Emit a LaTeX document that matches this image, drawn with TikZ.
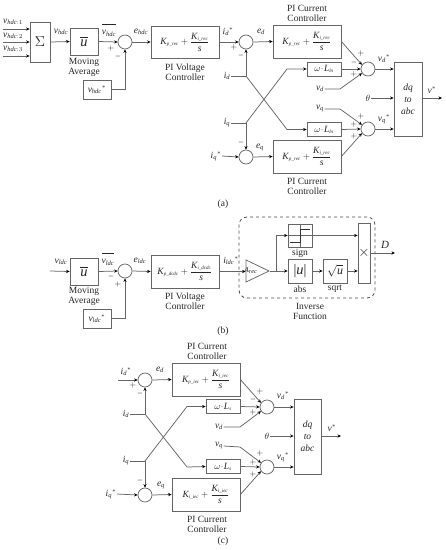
\documentclass[tikz,border=0pt]{standalone}
\usepackage{amsmath, amssymb}
\usepackage{fontspec}
\setmainfont{Liberation Serif}
\usepackage[italic]{mathastext}
\DeclareMathSizes{9.5}{9.5}{6.5}{5}
\usetikzlibrary{arrows.meta, shapes.geometric}
\newcommand{\subs}[1]{_{\scriptscriptstyle #1}}

\begin{document}
\begin{tikzpicture}[x=1pt, y=-1pt,
    font=\fontsize{9.5}{10}\selectfont, text=black!85,
    sig/.style={draw=black!60, line width=0.75pt, -{Stealth[color=black, length=3.5pt, width=3.2pt]}},
    wire/.style={draw=black!60, line width=0.75pt},
    blk/.style={draw=black!60, line width=0.8pt, fill=white, inner sep=0pt},
    sumnode/.style={circle, draw=black!60, line width=0.75pt, fill=white, inner sep=0pt, minimum size=14pt},
    lbl/.style={inner sep=0.5pt},
    sgn/.style={inner sep=0pt, font=\fontsize{8.5}{9}\selectfont},
    note/.style={align=center, inner sep=0pt, font=\fontsize{9.5}{10}\selectfont}]
  \useasboundingbox (0,0) rectangle (446,550);

  % ---- (a)
  \node[lbl] (vhdca) at (13,22) {$v_{hdc:1}$};
  \node[lbl] (vhdcb) at (13,36) {$v_{hdc:2}$};
  \node[lbl] (vhdcc) at (13,49) {$v_{hdc:3}$};
  \coordinate (ina) at (3,29);
  \coordinate (inb) at (3,42);
  \coordinate (inc) at (3,56);
  \node[blk, minimum width=20, minimum height=40, font=\Large] (sigma) at (40,42) {$\Sigma$};
  \node[blk, minimum width=28, minimum height=27, font=\Large] (avgA) at (84,41.5) {$\overline{u}$};
  \node[sumnode] (sumA) at (125,42) {};
  \node[blk, minimum width=28, minimum height=19] (refA) at (97,89.5) {$v_{hdc}{}^{*}$};
  \node[blk, minimum width=68, minimum height=32] (pivA) at (185,42) {$K\subs{p\_rec}+\dfrac{K\subs{i\_rec}}{s}$};
  \node[sumnode] (sumdA) at (246,42) {};
  \node[sumnode] (sumqA) at (246,157) {};
  \node[blk, minimum width=68, minimum height=33] (pidA) at (307,41.5) {$K\subs{p\_rec}+\dfrac{K\subs{i\_rec}}{s}$};
  \node[blk, minimum width=68, minimum height=33] (piqA) at (307,156.5) {$K\subs{p\_rec}+\dfrac{K\subs{i\_rec}}{s}$};
  \node[blk, minimum width=34, minimum height=14] (wdA) at (324,69) {$\omega\!\cdot\! L\subs{ln}$};
  \node[blk, minimum width=34, minimum height=14] (wqA) at (324,129.5) {$\omega\!\cdot\! L\subs{ln}$};
  \node[sumnode] (svdA) at (368,69) {};
  \node[sumnode] (svqA) at (368,129) {};
  \node[blk, minimum width=28, minimum height=74, align=center] (dqA) at (408,99) {$dq$\\[2pt]$to$\\[2pt]$abc$};
  \node[lbl] (idA) at (227,76) {$i_d$};
  \node[lbl] (iqA) at (227,123) {$i_q$};
  \node[lbl] (iqrA) at (216,156) {$i_q{}^{*}$};
  \node[lbl] (vdA) at (320,89) {$v_d$};
  \node[lbl] (vqA) at (320,109) {$v_q$};
  \node[lbl] (thA) at (368,98) {$\theta$};
  \coordinate (jdA) at (246,76);
  \coordinate (jqA) at (246,123);
  \coordinate (voutA) at (442,98);

  \draw[sig] (ina) -- (ina -| sigma.west);
  \draw[sig] (inb) -- (sigma.west);
  \draw[sig] (inc) -- (inc -| sigma.west);
  \draw[sig] (sigma.east) -- (avgA.west);
  \draw[sig] (avgA.east) -- (sumA.west);
  \draw[sig] (sumA.east) -- (pivA.west);
  \draw[sig] (refA.east) -| (sumA.south);
  \draw[sig] (pivA.east) -- (sumdA.west);
  \draw[sig] (sumdA.east) -- (pidA.west);
  \draw[sig] (iqrA.east) -- (sumqA.west);
  \draw[sig] (sumqA.east) -- (piqA.west);
  \draw[wire] (idA.east) -- (jdA);
  \draw[wire] (iqA.east) -- (jqA);
  \draw[sig] (jdA) -- (sumdA.south);
  \draw[sig] (jqA) -- (sumqA.north);
  \draw[sig] (jdA) -- (287,129.5) -- (wqA.west);
  \draw[sig] (jqA) -- (287,69) -- (wdA.west);
  \draw[sig] (pidA.east) -- (svdA.145);
  \draw[sig] (wdA.east) -- (svdA.west);
  \draw[sig] (vdA.east) -- (340,89) -- (svdA.215);
  \draw[sig] (vqA.east) -- (340,109) -- (svqA.145);
  \draw[sig] (wqA.east) -- (svqA.west);
  \draw[sig] (piqA.east) -- (svqA.215);
  \draw[sig] (svdA.east) -- (svdA.east -| dqA.west);
  \draw[sig] (svqA.east) -- (svqA.east -| dqA.west);
  \draw[sig] (thA.east) -- (thA.east -| dqA.west);
  \draw[sig] (dqA.east |- voutA) -- (voutA);

  \node[lbl] at (61,32) {$v_{hdc}$};
  \node[lbl] at (109,30) {$\overline{\rule{0pt}{9pt}v_{hdc}}$};
  \node[lbl] at (141,32) {$e_{hdc}$};
  \node[lbl] at (228,32) {$i_d{}^{*}$};
  \node[lbl] at (261,32) {$e_d$};
  \node[lbl] at (260,147) {$e_q$};
  \node[lbl] at (384,59) {$v_d{}^{*}$};
  \node[lbl] at (384,119) {$v_q{}^{*}$};
  \node[lbl] at (432,90) {$v^{*}$};
  \node[note] at (84,67) {Moving\\[0pt]Average};
  \node[note] at (185,72) {PI Voltage\\[0pt]Controller};
  \node[note] at (307,13.5) {PI Current\\[0pt]Controller};
  \node[note] at (307,186) {PI Current\\[0pt]Controller};
  \node[note] at (223,204) {(a)};
  \node[sgn] at (111,48) {$+$};
  \node[sgn] at (118,57) {$-$};
  \node[sgn] at (234,47) {$+$};
  \node[sgn] at (241,56) {$-$};
  \node[sgn] at (241,143) {$-$};
  \node[sgn] at (361,53) {$+$};
  \node[sgn] at (354,63) {$-$};
  \node[sgn] at (354,74) {$+$};
  \node[sgn] at (361,116) {$+$};
  \node[sgn] at (354,124) {$+$};
  \node[sgn] at (354,136) {$+$};

  % ---- (b)
  \node[lbl] (vldcin) at (61,262) {$v_{ldc}$};
  \coordinate (ldcin) at (50,271);
  \node[blk, minimum width=28, minimum height=27, font=\Large] (avgB) at (84,271.5) {$\overline{u}$};
  \node[sumnode] (sumB) at (125,271) {};
  \node[blk, minimum width=28, minimum height=19] (refB) at (97,318.5) {$v_{ldc}{}^{*}$};
  \node[blk, minimum width=68, minimum height=33] (pivB) at (185,271.5) {$K\subs{p\_dcdc}+\dfrac{K\subs{i\_dcdc}}{s}$};
  \node[draw=black!70, dashed, line width=0.8pt, rounded corners=8pt, minimum width=136, minimum height=81] (invfn) at (307,257.5) {};
  \node[isosceles triangle, isosceles triangle stretches, draw=black!60, line width=0.75pt, inner sep=0pt,
        minimum width=22, minimum height=23, anchor=apex, font=\fontsize{7.5}{8}\selectfont] (gain) at (270,271) {\hspace{-4pt}$A_{rec}$};
  \node[blk, minimum width=24, minimum height=23] (sgnbox) at (300,235.5) {};
  \node[blk, minimum width=24, minimum height=24, font=\Large] (absbox) at (300,271) {$|u|$};
  \node[blk, minimum width=24, minimum height=24, font=\large] (sqrtbox) at (335,271) {$\sqrt{u}$};
  \node[blk, minimum width=12, minimum height=60, font=\Large] (multbox) at (364,253) {$\times$};
  \coordinate (jgain) at (276,271);
  \coordinate (Dout) at (395,253);

  \draw[sig] (ldcin) -- (avgB.west);
  \draw[sig] (avgB.east) -- (sumB.west);
  \draw[sig] (sumB.east) -- (pivB.west);
  \draw[sig] (refB.east) -| (sumB.south);
  \draw[sig] (pivB.east) -- (gain.west |- pivB.east);
  \draw[sig] (gain.apex) -- (absbox.west);
  \draw[sig] (jgain) |- (sgnbox.west);
  \draw[sig] (absbox.east) -- (sqrtbox.west);
  \draw[sig] (sqrtbox.east) -- (sqrtbox.east -| multbox.west);
  \draw[sig] (sgnbox.east) -- (sgnbox.east -| multbox.west);
  \draw[sig] (multbox.east) -- (Dout);
  % step inside the sign block
  \draw[wire] (sgnbox.west) -- (sgnbox.east);
  \draw[wire] (sgnbox.north) -- (sgnbox.south);
  \draw[line width=0.8pt, black!80] (290,242) -- (300,242) -- (300,229) -- (310,229);

  \node[lbl] at (108,259) {$\overline{\rule{0pt}{9pt}v_{ldc}}$};
  \node[lbl] at (140,261) {$e_{ldc}$};
  \node[lbl] at (231,261) {$i_{ldc}{}^{*}$};
  \node[lbl] at (385,245) {\fontsize{11}{12}\selectfont$D$};
  \node[note] at (84,296) {Moving\\[0pt]Average};
  \node[note] at (185,301.5) {PI Voltage\\[0pt]Controller};
  \node[note] at (300,253) {sign};
  \node[note] at (300,289) {abs};
  \node[note] at (335,289) {sqrt};
  \node[note] at (310,311) {Inverse\\[0pt]Function};
  \node[note] at (223,331) {(b)};
  \node[sgn] at (111,277) {$-$};
  \node[sgn] at (118,284) {$+$};

  % ---- (c)
  \coordinate (idrin) at (118,380);
  \node[sumnode] (sumdC) at (145,380) {};
  \node[sumnode] (sumqC) at (145,495) {};
  \node[blk, minimum width=68, minimum height=33] (pidC) at (206,379.5) {$K\subs{p\_iec}+\dfrac{K\subs{i\_iec}}{s}$};
  \node[blk, minimum width=68, minimum height=33] (piqC) at (206,494.5) {$K\subs{i\_iec}+\dfrac{K\subs{i\_iec}}{s}$};
  \node[blk, minimum width=34, minimum height=14] (wdC) at (223,406.5) {$\omega\!\cdot\! L\subs{s}$};
  \node[blk, minimum width=34, minimum height=14] (wqC) at (223,466.5) {$\omega\!\cdot\! L\subs{s}$};
  \node[sumnode] (svdC) at (267,407) {};
  \node[sumnode] (svqC) at (267,467) {};
  \node[blk, minimum width=27, minimum height=75, align=center] (dqC) at (307.5,436.5) {$dq$\\[2pt]$to$\\[2pt]$abc$};
  \node[lbl] (idC) at (126,414) {$i_d$};
  \node[lbl] (iqC) at (126,461) {$i_q$};
  \node[lbl] (iqrC) at (111,494) {$i_q{}^{*}$};
  \node[lbl] (vdC) at (219,427) {$v_d$};
  \node[lbl] (vqC) at (219,446) {$v_q$};
  \node[lbl] (thC) at (267,436) {$\theta$};
  \coordinate (jdC) at (145,414);
  \coordinate (jqC) at (145,461);
  \coordinate (voutC) at (341,436);

  \draw[sig] (idrin) -- (sumdC.west);
  \draw[sig] (sumdC.east) -- (pidC.west);
  \draw[sig] (iqrC.east) -- (sumqC.west);
  \draw[sig] (sumqC.east) -- (piqC.west);
  \draw[wire] (idC.east) -- (jdC);
  \draw[wire] (iqC.east) -- (jqC);
  \draw[sig] (jdC) -- (sumdC.south);
  \draw[sig] (jqC) -- (sumqC.north);
  \draw[sig] (jdC) -- (187,467) -- (wqC.west);
  \draw[sig] (jqC) -- (187,406.5) -- (wdC.west);
  \draw[sig] (pidC.east) -- (svdC.145);
  \draw[sig] (wdC.east) -- (svdC.west);
  \draw[sig] (vdC.east) -- (240,427) -- (svdC.215);
  \draw[sig] (vqC.east) -- (240,447) -- (svqC.145);
  \draw[sig] (wqC.east) -- (svqC.west);
  \draw[sig] (piqC.east) -- (svqC.215);
  \draw[sig] (svdC.east) -- (svdC.east -| dqC.west);
  \draw[sig] (svqC.east) -- (svqC.east -| dqC.west);
  \draw[sig] (thC.east) -- (thC.east -| dqC.west);
  \draw[sig] (dqC.east |- voutC) -- (voutC);

  \node[lbl] at (126,372) {$i_d{}^{*}$};
  \node[lbl] at (160,370) {$e_d$};
  \node[lbl] at (161,485) {$e_q$};
  \node[lbl] at (283,396) {$v_d{}^{*}$};
  \node[lbl] at (283,457) {$v_q{}^{*}$};
  \node[lbl] at (332,428) {$v^{*}$};
  \node[note] at (207,351.5) {PI Current\\[0pt]Controller};
  \node[note] at (207,524.5) {PI Current\\[0pt]Controller};
  \node[note] at (223,541) {(c)};
  \node[sgn] at (133,385) {$+$};
  \node[sgn] at (140,394) {$-$};
  \node[sgn] at (140,481) {$-$};
  \node[sgn] at (260,391) {$+$};
  \node[sgn] at (253,400) {$-$};
  \node[sgn] at (253,412) {$+$};
  \node[sgn] at (260,453) {$+$};
  \node[sgn] at (253,462) {$+$};
  \node[sgn] at (253,474) {$+$};
\end{tikzpicture}
\end{document}
